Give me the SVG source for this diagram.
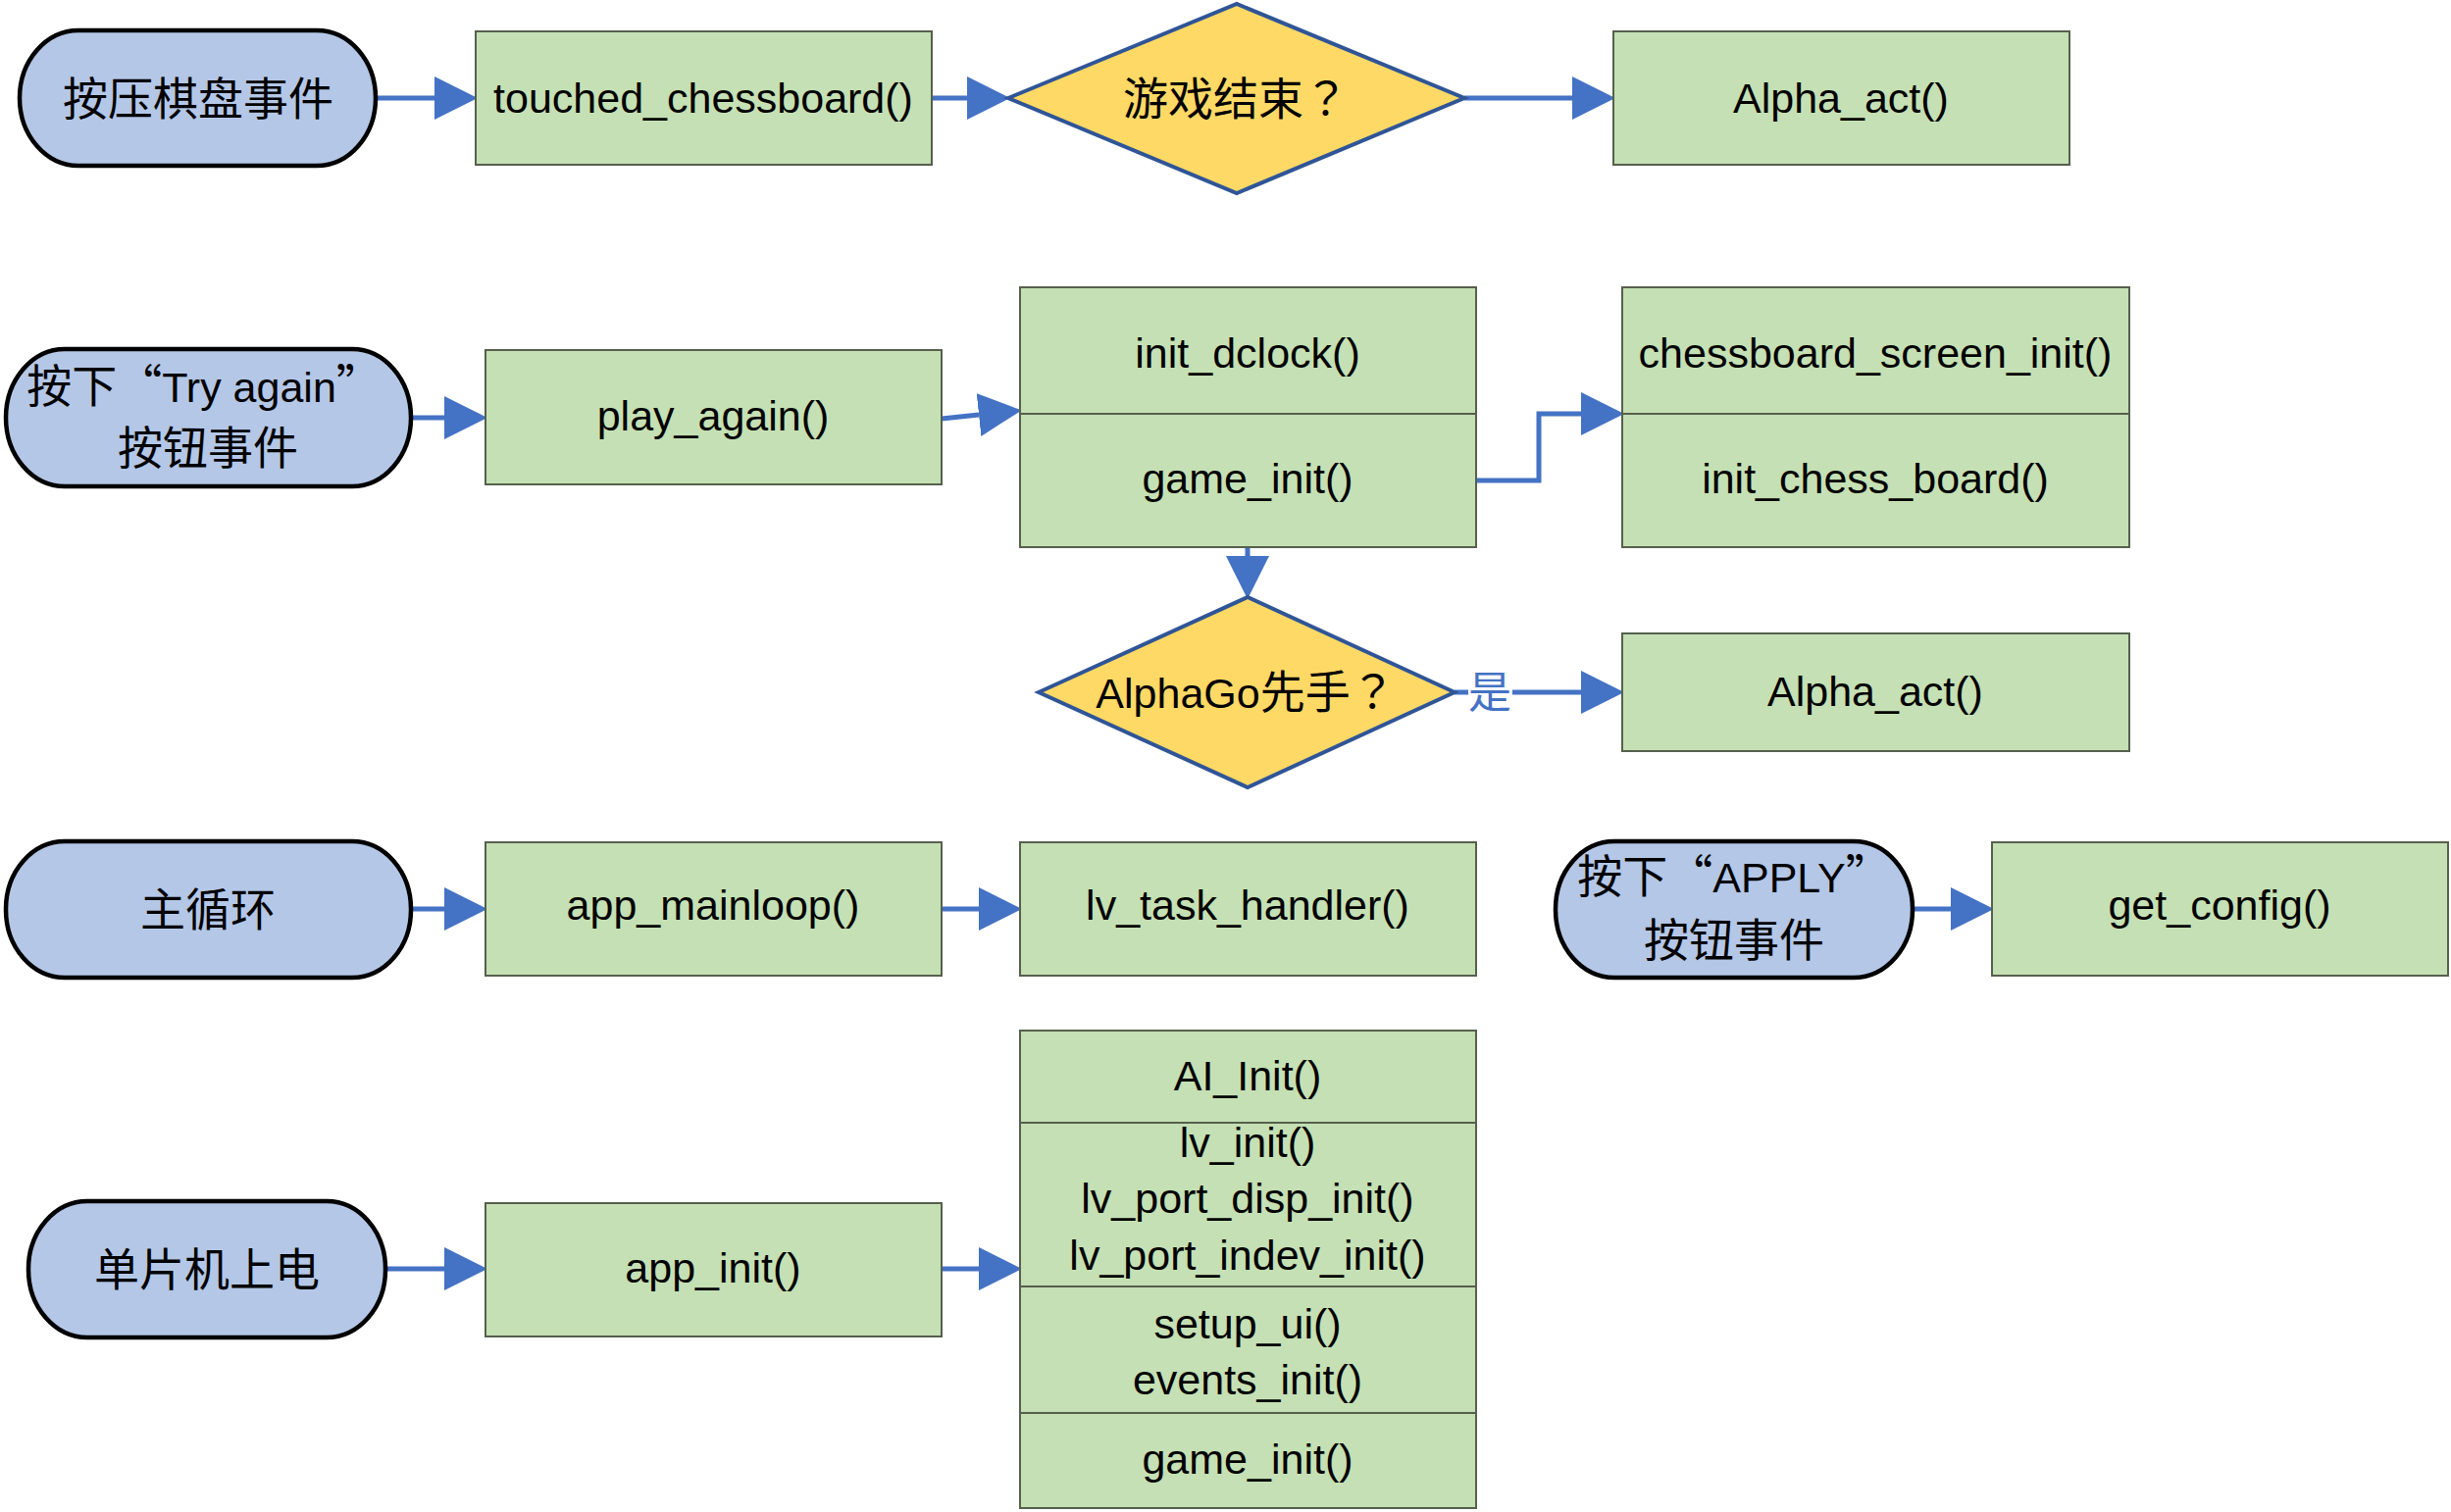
<svg xmlns="http://www.w3.org/2000/svg" width="2499" height="1542" viewBox="0 0 2499 1542">
<style>
.term{fill:#B4C7E7;stroke:#000;stroke-width:4.5}
.box{fill:#C5E0B4;stroke:#56604d;stroke-width:2}
.div{stroke:#56604d;stroke-width:2;fill:none}
.dia{fill:#FFD966;stroke:#2F5597;stroke-width:4;stroke-linejoin:miter}
.lat{font-family:"Liberation Sans","Noto Sans CJK SC",sans-serif;font-size:43px;fill:#000}
.cjk{font-family:"Noto Sans CJK SC","Liberation Sans",sans-serif;font-size:46px;fill:#000}
.q{font-family:"Noto Sans CJK TC","Noto Sans CJK SC",sans-serif}
.c{text-anchor:middle}
.conn{fill:none;stroke:#4472C4;stroke-width:5}
</style>
<defs>
<marker id="ah" markerUnits="userSpaceOnUse" markerWidth="44" markerHeight="44" refX="0" refY="21" orient="auto" viewBox="0 0 42 42">
<path d="M0,0 L42,21 L0,42 Z" fill="#4472C4"/>
</marker>
</defs>
<rect width="2499" height="1542" fill="#fff"/>

<g id="connectors">
<path class="conn" d="M383,100 H443" marker-end="url(#ah)"/>
<path class="conn" d="M950,100 H986" marker-end="url(#ah)"/>
<path class="conn" d="M1493,100 H1603" marker-end="url(#ah)"/>
<path class="conn" d="M419,426 H453" marker-end="url(#ah)"/>
<path class="conn" d="M960,427 L998,423" marker-end="url(#ah)"/>
<path class="conn" d="M1505,490 H1569 V422 H1612" marker-end="url(#ah)"/>
<path class="conn" d="M1272,558 V567" marker-end="url(#ah)"/>
<path class="conn" d="M1483,706 H1497"/>
<path class="conn" d="M1542,706 H1612" marker-end="url(#ah)"/>
<text class="cjk" x="1497" y="722" style="fill:#4472C4;font-size:44px">是</text>
<path class="conn" d="M419,927 H453" marker-end="url(#ah)"/>
<path class="conn" d="M960,927 H998" marker-end="url(#ah)"/>
<path class="conn" d="M1950,927 H1989" marker-end="url(#ah)"/>
<path class="conn" d="M393,1294 H453" marker-end="url(#ah)"/>
<path class="conn" d="M960,1294 H998" marker-end="url(#ah)"/>
</g>

<g id="t_press_board">
<rect class="term" x="20" y="31" width="363" height="138" rx="60" ry="69"/>
<text class="cjk c" x="202" y="117">按压棋盘事件</text>
</g>
<g id="touched_chessboard">
<rect class="box" x="485" y="32" width="465" height="136"/>
<text class="lat c" x="717" y="115">touched_chessboard()</text>
</g>
<g id="d_game_over">
<polygon class="dia" points="1028,100 1261,4 1493,100 1261,197"/>
<text class="cjk c" x="1260" y="117">游戏结束<tspan class="q">？</tspan></text>
</g>
<g id="alpha_act_1">
<rect class="box" x="1645" y="32" width="465" height="136"/>
<text class="lat c" x="1877" y="115">Alpha_act()</text>
</g>

<g id="t_try_again">
<rect class="term" x="6" y="356" width="413" height="140" rx="60" ry="70"/>
<text class="cjk c" x="208" y="410">按下“<tspan class="lat">Try again</tspan>”</text>
<text class="cjk c" x="212" y="473">按钮事件</text>
</g>
<g id="play_again">
<rect class="box" x="495" y="357" width="465" height="137"/>
<text class="lat c" x="727" y="439">play_again()</text>
</g>
<g id="init_stack">
<rect class="box" x="1040" y="293" width="465" height="265"/>
<path class="div" d="M1040,422 H1505"/>
<text class="lat c" x="1272" y="375">init_dclock()</text>
<text class="lat c" x="1272" y="503">game_init()</text>
</g>
<g id="chess_stack">
<rect class="box" x="1654" y="293" width="517" height="265"/>
<path class="div" d="M1654,422 H2171"/>
<text class="lat c" x="1912" y="375">chessboard_screen_init()</text>
<text class="lat c" x="1912" y="503">init_chess_board()</text>
</g>
<g id="d_alphago_first">
<polygon class="dia" points="1059,706 1272,609 1483,706 1272,803"/>
<text class="cjk c" x="1270" y="722"><tspan class="lat">AlphaGo</tspan>先手<tspan class="q">？</tspan></text>
</g>
<g id="alpha_act_2">
<rect class="box" x="1654" y="646" width="517" height="120"/>
<text class="lat c" x="1912" y="720">Alpha_act()</text>
</g>

<g id="t_mainloop">
<rect class="term" x="6" y="858" width="413" height="139" rx="60" ry="69"/>
<text class="cjk c" x="212" y="944">主循环</text>
</g>
<g id="app_mainloop">
<rect class="box" x="495" y="859" width="465" height="136"/>
<text class="lat c" x="727" y="938">app_mainloop()</text>
</g>
<g id="lv_task_handler">
<rect class="box" x="1040" y="859" width="465" height="136"/>
<text class="lat c" x="1272" y="938">lv_task_handler()</text>
</g>
<g id="t_apply">
<rect class="term" x="1586" y="858" width="364" height="139" rx="60" ry="69"/>
<text class="cjk c" x="1768" y="910">按下“<tspan class="lat">APPLY</tspan>”</text>
<text class="cjk c" x="1768" y="975">按钮事件</text>
</g>
<g id="get_config">
<rect class="box" x="2031" y="859" width="465" height="136"/>
<text class="lat c" x="2263" y="938">get_config()</text>
</g>

<g id="t_power_on">
<rect class="term" x="29" y="1225" width="364" height="139" rx="60" ry="69"/>
<text class="cjk c" x="211" y="1311">单片机上电</text>
</g>
<g id="app_init">
<rect class="box" x="495" y="1227" width="465" height="136"/>
<text class="lat c" x="727" y="1308">app_init()</text>
</g>
<g id="init_list">
<rect class="box" x="1040" y="1051" width="465" height="487"/>
<path class="div" d="M1040,1145 H1505 M1040,1312 H1505 M1040,1441 H1505"/>
<text class="lat c" x="1272" y="1112">AI_Init()</text>
<text class="lat c" x="1272" y="1180">lv_init()</text>
<text class="lat c" x="1272" y="1237">lv_port_disp_init()</text>
<text class="lat c" x="1272" y="1295">lv_port_indev_init()</text>
<text class="lat c" x="1272" y="1365">setup_ui()</text>
<text class="lat c" x="1272" y="1422">events_init()</text>
<text class="lat c" x="1272" y="1503">game_init()</text>
</g>
</svg>
